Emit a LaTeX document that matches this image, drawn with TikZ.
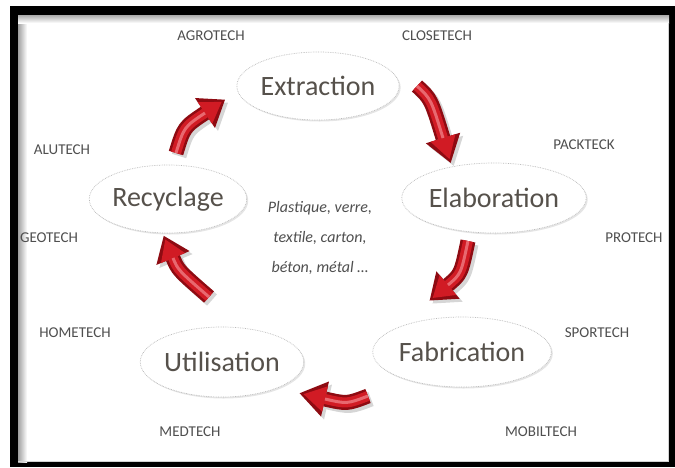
\documentclass[tikz,border=0pt]{standalone}
\usepackage{fontspec}
\setmainfont{Carlito}
\usetikzlibrary{shapes.geometric,calc,shadows}
\definecolor{txt}{HTML}{56514B}
\definecolor{lbl}{HTML}{4F4F4F}
\definecolor{adark}{HTML}{8E0B12}
\definecolor{ared}{HTML}{D11B24}
\definecolor{alight}{HTML}{F28A90}
\tikzset{
  stage/.style={ellipse, draw=gray!55, densely dotted, line width=0.7pt, fill=white,
    inner sep=0pt, font=\fontsize{28}{30}\selectfont, text=txt,
    drop shadow={shadow xshift=1.5pt, shadow yshift=-1.5pt, opacity=0.1, fill=black}},
  tech/.style={font=\fontsize{15}{16}\selectfont, text=lbl, inner sep=1pt},
  shaftouter/.style={line width=15pt, draw=adark},
  shaftinner/.style={line width=10pt, draw=ared},
  shaftshine/.style={line width=3pt, draw=alight, opacity=0.7},
}
% #1 prefix, #2 tail, #3 control, #4 head base, #5 head length
\newcommand{\redarrow}[5]{%
  \coordinate (#1t) at #2;
  \coordinate (#1c) at #3;
  \coordinate (#1b) at #4;
  \coordinate (#1p) at ($(#1b)!-#5!(#1c)$);
  \coordinate (#1u) at ($(#1b)!18pt!90:(#1p)$);
  \coordinate (#1v) at ($(#1b)!18pt!-90:(#1p)$);
  \coordinate (#1q) at ($(#1p)!4pt!(#1b)$);
  \coordinate (#1i) at ($(#1b)!13pt!90:(#1p)$);
  \coordinate (#1j) at ($(#1b)!13pt!-90:(#1p)$);
  \begin{scope}[transform canvas={xshift=3pt,yshift=-3pt}]
    \draw[line width=15pt, draw=black, opacity=0.16] (#1t) .. controls (#1c) .. (#1b);
    \fill[black, opacity=0.16] (#1u) -- (#1p) -- (#1v) -- cycle;
  \end{scope}
  \fill[adark] (#1u) -- (#1p) -- (#1v) -- cycle;
  \draw[shaftouter] (#1t) .. controls (#1c) .. (#1b);
  \draw[shaftinner] (#1t) .. controls (#1c) .. (#1b);
  \fill[ared] (#1i) -- (#1q) -- (#1j) -- cycle;
  \draw[shaftshine] (#1t) .. controls (#1c) .. (#1b);
}
\begin{document}
\begin{tikzpicture}[x=1pt,y=-1pt]
\useasboundingbox (0,0) rectangle (675,467);
% frame
\fill[black] (10,6) rectangle (675,467);
\fill[white] (18,15) rectangle (669,462);
\shade[left color=gray!75, right color=white] (18,15) rectangle (27,462);
\shade[top color=gray!65, bottom color=white] (18,15) rectangle (669,23);
\draw[gray!35, line width=0.8pt] (18,461.6) -- (668.6,461.6) -- (668.6,23);

% stages
\node[stage, minimum width=142pt, minimum height=68pt] (ext) at (318,86) {Extraction};
\node[stage, minimum width=174pt, minimum height=70pt] (ela) at (494,198) {Elaboration};
\node[stage, minimum width=156pt, minimum height=70pt] (fab) at (462,352) {Fabrication};
\node[stage, minimum width=144pt, minimum height=70pt] (uti) at (222,362) {Utilisation};
\node[stage, minimum width=144pt, minimum height=68pt] (rec) at (168,199) {Recyclage};

% centre text
\node[font=\itshape\fontsize{16}{30}\selectfont, text=lbl, align=center] (mat) at (320,238)
  {Plastique, verre,\\ textile, carton,\\ béton, métal \ldots};

% sectors
\node[tech] (agro) at (211,36) {AGROTECH};
\node[tech] (close) at (437,36) {CLOSETECH};
\node[tech] (pack) at (584,145) {PACKTECK};
\node[tech] (alu) at (62,150) {ALUTECH};
\node[tech] (geo) at (49,238) {GEOTECH};
\node[tech] (pro) at (634,238) {PROTECH};
\node[tech] (home) at (75,333) {HOMETECH};
\node[tech] (sport) at (597,333) {SPORTECH};
\node[tech] (med) at (190,432) {MEDTECH};
\node[tech] (mobil) at (541,432) {MOBILTECH};

% arrows
\redarrow{ra}{(176,153)}{(184,127)}{(205,113)}{24pt}
\redarrow{rb}{(417,86)}{(431,99)}{(443,138)}{26pt}
\redarrow{rc}{(468,241)}{(461,274)}{(448,285)}{24pt}
\redarrow{rd}{(368,396)}{(347,404)}{(325,399)}{26pt}
\redarrow{re}{(209,297)}{(178,270)}{(173,258)}{24pt}
\end{tikzpicture}
\end{document}
